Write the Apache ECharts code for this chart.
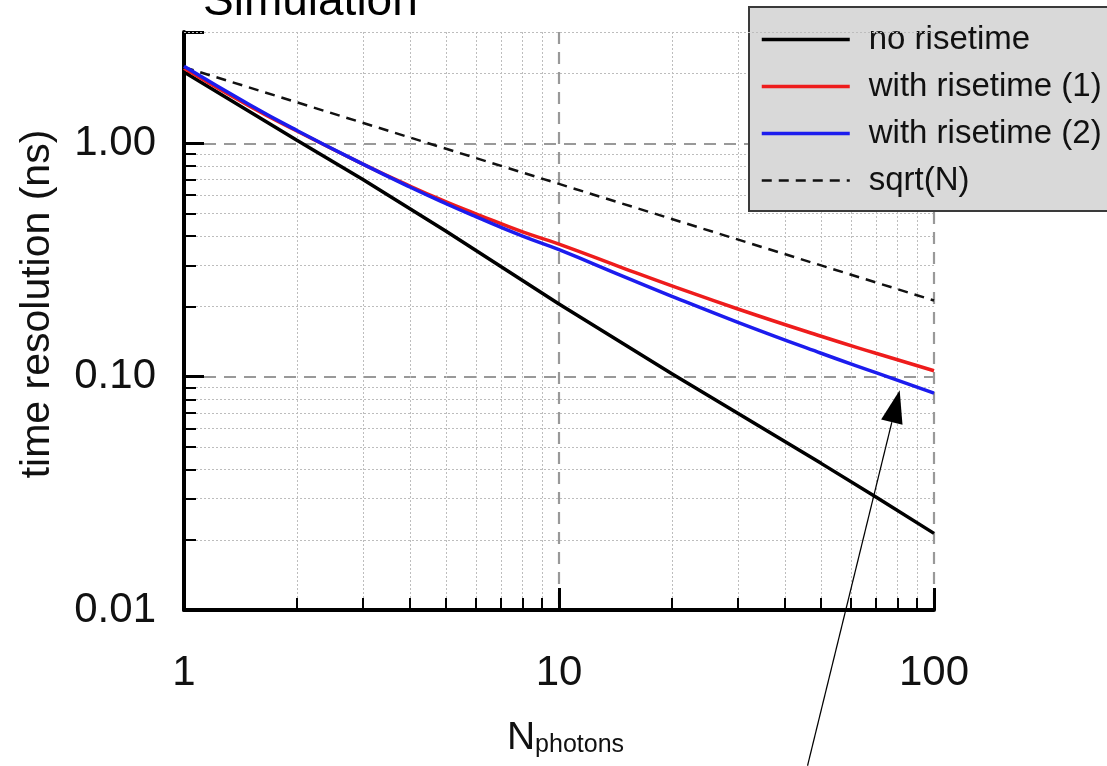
<!DOCTYPE html>
<html><head><meta charset="utf-8">
<script src="https://cdn.jsdelivr.net/npm/echarts@6/dist/echarts.min.js"></script>
<style>html,body{margin:0;padding:0;background:#fff}#c{width:1107px;height:766px}</style>
</head><body><div id="c"></div>
<script>
// ---- data ----
const nBlack = [1, 2, 3, 5, 10, 20, 50, 70, 100];
const noRisetime = [2.02, 1.03, 0.70, 0.42, 0.205, 0.103, 0.0425, 0.0305, 0.0213];
const nRise = [1, 1.5, 2, 3, 4, 5, 6, 8, 10, 15, 20, 30, 50, 70, 100];
const withRise1 = [2.10, 1.44, 1.13, 0.815, 0.656, 0.561, 0.499, 0.417, 0.37, 0.290, 0.245, 0.195, 0.149, 0.126, 0.106];
const withRise2 = [2.14, 1.46, 1.135, 0.814, 0.650, 0.551, 0.485, 0.40, 0.35, 0.267, 0.221, 0.171, 0.126, 0.104, 0.085];
const nSqrt = [1, 10, 100];
const sqrtN = [2.12, 0.67, 0.212];
const seriesNames = ['no risetime', 'with risetime (1)', 'with risetime (2)', 'sqrt(N)'];
const yTicks = [0.01, 0.1, 1];
const xTicks = [1, 10, 100];
const arrowTip = [81, 0.0875];
const arrowTail = [46, 0.00215];

const FONT = 'Liberation Sans, Arial, sans-serif';
const pairs = (xs, ys) => xs.map((x, i) => [x, ys[i]]);
const COLORS = ['#000', '#ee1c1c', '#1c1cee', '#111'];

const yName = {
  type: 'text', x: 38, y: 304, rotation: Math.PI / 2,
  style: {text: 'time resolution (ns)', font: '41px ' + FONT, fill: '#111', align: 'center', verticalAlign: 'middle'}
};

const chart = echarts.init(document.getElementById('c'), null, {renderer: 'canvas'});
const option = {
  animation: false,
  backgroundColor: '#fff',
  title: {
    text: 'Simulation', left: 198, top: -26,
    textStyle: {fontFamily: FONT, fontSize: 46, fontWeight: 'normal', color: '#000'}
  },
  grid: {left: 184, right: 173, top: 32, bottom: 156, containLabel: false},
  legend: {
    orient: 'vertical', left: 749, top: 7,
    padding: [16, 30, 14, 11], itemGap: 14, itemWidth: 88, itemHeight: 14,
    backgroundColor: '#d9d9d9', borderColor: '#3a3a3a', borderWidth: 2, borderRadius: 0,
    itemStyle: {opacity: 0},
    textStyle: {fontFamily: FONT, fontSize: 33, color: '#111', padding: [0, 0, 0, 14]},
    data: [
      {name: seriesNames[0], itemStyle: {opacity: 0}, lineStyle: {width: 3.5, color: COLORS[0]}},
      {name: seriesNames[1], itemStyle: {opacity: 0}, lineStyle: {width: 3.5, color: COLORS[1]}},
      {name: seriesNames[2], itemStyle: {opacity: 0}, lineStyle: {width: 3.5, color: COLORS[2]}},
      {name: seriesNames[3], itemStyle: {opacity: 0}, lineStyle: {width: 2.5, color: COLORS[3], type: [10, 7]}}
    ]
  },
  xAxis: {
    type: 'log', logBase: 10, min: 1, max: 100,
    name: '{n|N}{s|photons}', nameLocation: 'middle', nameGap: 109,
    nameTextStyle: {
      padding: [0, 0, 0, 13],
      rich: {
        n: {fontFamily: FONT, fontSize: 39, color: '#111', lineHeight: 39, verticalAlign: 'bottom'},
        s: {fontFamily: FONT, fontSize: 25, color: '#111', lineHeight: 25, verticalAlign: 'bottom'}
      }
    },
    axisLine: {show: true, lineStyle: {color: '#000', width: 4}},
    axisTick: {show: true, inside: true, length: 22, lineStyle: {color: '#000', width: 3}},
    minorTick: {show: true, splitNumber: 9, length: 12, lineStyle: {color: '#000', width: 2}},
    axisLabel: {fontFamily: FONT, fontSize: 42, color: '#111', margin: 42,
      formatter: v => (xTicks.indexOf(v) >= 0 ? String(v) : '')},
    splitLine: {show: true, showMinLine: false, showMaxLine: true,
      lineStyle: {color: '#999', width: 2.2, type: [12, 8]}},
    minorSplitLine: {show: true, lineStyle: {color: '#bdbdbd', width: 1, type: [2, 2]}}
  },
  yAxis: {
    type: 'log', logBase: 10, min: 0.01, max: 3,
    axisLine: {show: true, lineStyle: {color: '#000', width: 4}},
    axisTick: {show: true, inside: true, length: 20, lineStyle: {color: '#000', width: 3}},
    minorTick: {show: true, splitNumber: 9, length: 12, lineStyle: {color: '#000', width: 2}},
    axisLabel: {fontFamily: FONT, fontSize: 42, color: '#111', margin: 28, showMaxLabel: false,
      formatter: v => (yTicks.some(t => Math.abs(t - v) < 1e-9) ? v.toFixed(2) : '')},
    splitLine: {show: true, showMinLine: false, showMaxLine: false,
      lineStyle: {color: '#999', width: 2.2, type: [12, 8]}},
    minorSplitLine: {show: true, lineStyle: {color: '#bdbdbd', width: 1, type: [2, 2]}}
  },
  series: [
    {name: seriesNames[0], type: 'line', data: pairs(nBlack, noRisetime), symbol: 'none', smooth: false,
      lineStyle: {color: COLORS[0], width: 3.5}, itemStyle: {color: COLORS[0]}, z: 3},
    {name: seriesNames[1], type: 'line', data: pairs(nRise, withRise1), symbol: 'none', smooth: true,
      lineStyle: {color: COLORS[1], width: 3.5}, itemStyle: {color: COLORS[1]}, z: 3},
    {name: seriesNames[2], type: 'line', data: pairs(nRise, withRise2), symbol: 'none', smooth: true,
      lineStyle: {color: COLORS[2], width: 3.5}, itemStyle: {color: COLORS[2]}, z: 4},
    {name: seriesNames[3], type: 'line', data: pairs(nSqrt, sqrtN), symbol: 'none',
      lineStyle: {color: COLORS[3], width: 2.5, type: [10, 7]}, itemStyle: {color: COLORS[3]}, z: 3,
      markLine: {silent: true, symbol: ['none', 'none'], label: {show: false}, animation: false,
        lineStyle: {color: '#bdbdbd', width: 1, type: [2, 2]},
        data: [{yAxis: 3}]}}
  ],
  graphic: [yName]
};
chart.setOption(option);

// annotation arrow positioned through the chart's own scales
const tip = chart.convertToPixel({gridIndex: 0}, arrowTip);
const tail = chart.convertToPixel({gridIndex: 0}, arrowTail);
const dx = tip[0] - tail[0], dy = tip[1] - tail[1];
const len = Math.sqrt(dx * dx + dy * dy);
const ux = dx / len, uy = dy / len;
const headLen = 33, headHalf = 11;
const bx = tip[0] - ux * headLen, by = tip[1] - uy * headLen;
chart.setOption({graphic: [yName, {
  type: 'line', z: 100, silent: true,
  shape: {x1: tail[0], y1: tail[1], x2: bx, y2: by},
  style: {stroke: '#000', lineWidth: 1.2}
}, {
  type: 'polygon', z: 100, silent: true,
  shape: {points: [[tip[0], tip[1]], [bx - uy * headHalf, by + ux * headHalf], [bx + uy * headHalf, by - ux * headHalf]]},
  style: {fill: '#000'}
}]});
</script>
</body></html>
